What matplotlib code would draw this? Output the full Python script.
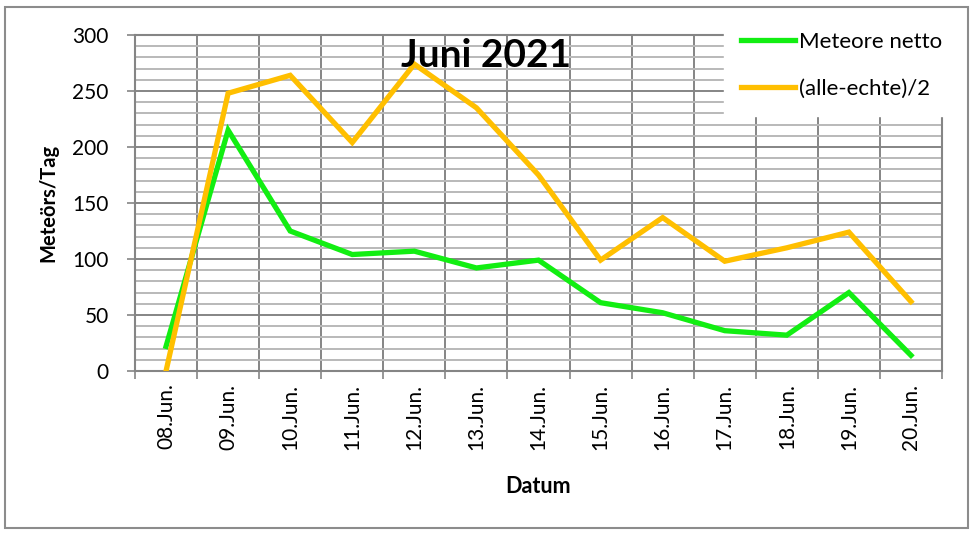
import matplotlib
matplotlib.use("Agg")
import matplotlib.pyplot as plt
from matplotlib.patches import Rectangle
import numpy as np

# data
days = ["08.Jun.", "09.Jun.", "10.Jun.", "11.Jun.", "12.Jun.", "13.Jun.", "14.Jun.",
        "15.Jun.", "16.Jun.", "17.Jun.", "18.Jun.", "19.Jun.", "20.Jun."]
netto = [22, 215, 125, 104, 107, 92, 99, 61, 52, 36, 32, 70, 14]
alle_echte = [0, 248, 264, 204, 274, 235, 175, 99, 137, 98, 110, 124, 62]

plt.rcParams['font.family'] = ['Lato', 'DejaVu Sans']

W, H = 974, 534
fig = plt.figure(figsize=(W / 100, H / 100), dpi=100)
ax = fig.add_axes([135 / W, 1 - 371 / H, (942 - 135) / W, (371 - 35) / H])

# outer chart border
fig.patches.append(Rectangle((5 / W, 1 - 528 / H), (968 - 5) / W, (528 - 7) / H,
                             transform=fig.transFigure, fill=False,
                             edgecolor='#8c8c8c', linewidth=1.5))

x = np.arange(len(days))
ax.plot(x, netto, color='#12ee12', linewidth=3.8, label='Meteore netto',
        solid_joinstyle='miter', zorder=3)
ax.plot(x, alle_echte, color='#ffbf00', linewidth=3.8, label='(alle-echte)/2',
        solid_joinstyle='miter', zorder=3)

ax.set_xlim(-0.5, len(days) - 0.5)
ax.set_ylim(0, 300)

# grid: category boundaries + y majors/minors
ax.set_xticks(np.arange(-0.5, len(days), 1.0))
ax.set_xticklabels([])
ax.set_xticks(x, minor=True)
ax.set_xticklabels(days, minor=True, rotation=90, fontsize=15)
ax.tick_params(axis='x', which='major', length=6, width=1.2, color='#858585', direction='out')
ax.tick_params(axis='x', which='minor', length=0, pad=9)

ax.set_yticks(np.arange(0, 301, 50))
ax.set_yticks(np.arange(0, 301, 10), minor=True)
ax.tick_params(axis='y', which='major', length=6, width=1.2, color='#858585',
               labelsize=15, pad=13)
ax.tick_params(axis='y', which='minor', length=0)

ax.grid(True, which='major', axis='both', color='#858585', linewidth=1.4, zorder=0)
ax.grid(True, which='minor', axis='y', color='#b9b9b9', linewidth=1.4, zorder=0)
ax.set_axisbelow(True)

for s in ax.spines.values():
    s.set_color('#858585')
    s.set_linewidth(1.5)

ax.set_xlabel('Datum', fontsize=15.5, fontweight='bold', labelpad=19)
ax.set_ylabel('Meteörs/Tag', fontsize=14.5, fontweight='bold', labelpad=10)

ax.text(0.435, 0.94, 'Juni 2021', transform=ax.transAxes, ha='center', va='center',
        fontsize=28, fontweight='bold', zorder=5)

leg = ax.legend(loc='upper right', bbox_to_anchor=(960 / W, 1 - 14 / H),
                bbox_transform=fig.transFigure, frameon=True, fancybox=False,
                fontsize=16, handlelength=2.4, handletextpad=0.2,
                labelspacing=1.2, borderpad=0.8, borderaxespad=0)
leg.get_frame().set_edgecolor('white')
leg.get_frame().set_facecolor('white')
leg.get_frame().set_alpha(1)
leg.set_zorder(6)

fig.savefig('out.png', dpi=100)
